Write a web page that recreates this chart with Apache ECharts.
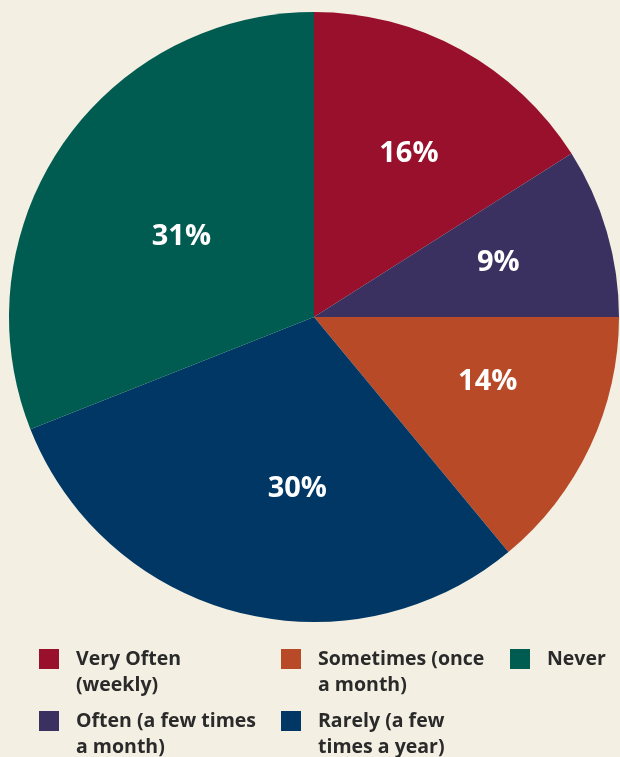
<!DOCTYPE html>
<html>
<head>
<meta charset="utf-8">
<style>
html,body{margin:0;padding:0;background:#F3F0E3;}
#chart{width:620px;height:757px;}
</style>
<script src="https://cdn.jsdelivr.net/npm/echarts@6/dist/echarts.min.js"></script>
</head>
<body>
<div id="chart"></div>
<script>
const categories = ['Very Often (weekly)', 'Often (a few times a month)', 'Sometimes (once a month)', 'Rarely (a few times a year)', 'Never'];
const legendLabels = ['Very Often\n(weekly)', 'Often (a few times\na month)', 'Sometimes (once\na month)', 'Rarely (a few\ntimes a year)', 'Never'];
const values = [16, 9, 14, 30, 31];
const colors = ['#98102C', '#3A3161', '#B84A28', '#003764', '#005C51'];
const labelOffsets = [[20, -27], [35, -11], [33, -1], [22, 21], [-4, 7]];

const chart = echarts.init(document.getElementById('chart'), null, {renderer: 'canvas'});

const legendPos = [
  {left: 39, icon: 659},
  {left: 39, icon: 721},
  {left: 281, icon: 659},
  {left: 281, icon: 721},
  {left: 510, icon: 659}
];
const LH = 26;
const FONT = '"Open Sans", sans-serif';
const LFS = 19.5;
const legends = categories.map((name, i) => {
  const lines = legendLabels[i].split('\n');
  // an empty leading line keeps the square level with the first text line
  const rich = (lines.length === 2 ? ['{e| }'] : []).concat(lines.map(l => '{g| }{a|' + l + '}'));
  const boxH = rich.length * LH;
  return {
    data: [{name: name}],
    left: legendPos[i].left,
    top: Math.round(legendPos[i].icon - boxH / 2),
    padding: 0,
    icon: 'rect',
    itemWidth: 20,
    itemHeight: 20,
    selectedMode: false,
    formatter: () => rich.join('\n'),
    textStyle: {
      fontFamily: FONT,
      fontWeight: 'bold',
      fontSize: LFS,
      color: '#2B2A2A',
      lineHeight: LH,
      rich: {
        e: {fontSize: LFS, lineHeight: LH, width: 1},
        g: {fontSize: LFS, lineHeight: LH, width: 12},
        a: {fontFamily: FONT, fontWeight: 'bold', fontSize: LFS, lineHeight: LH, color: '#2B2A2A'}
      }
    }
  };
});

chart.setOption({
  backgroundColor: '#F3F0E3',
  animation: false,
  color: colors,
  legend: legends,
  series: [{
    type: 'pie',
    center: [314, 317],
    radius: [0, 305],
    startAngle: 90,
    clockwise: true,
    silent: true,
    label: {
      show: true,
      position: 'inside',
      formatter: '{c}%',
      color: '#FFFFFF',
      fontFamily: FONT,
      fontWeight: 'bold',
      fontSize: 29
    },
    labelLine: {show: false},
    itemStyle: {borderWidth: 0},
    data: categories.map((name, i) => ({
      name: name,
      value: values[i],
      label: {offset: labelOffsets[i]}
    }))
  }]
});
</script>
</body>
</html>
